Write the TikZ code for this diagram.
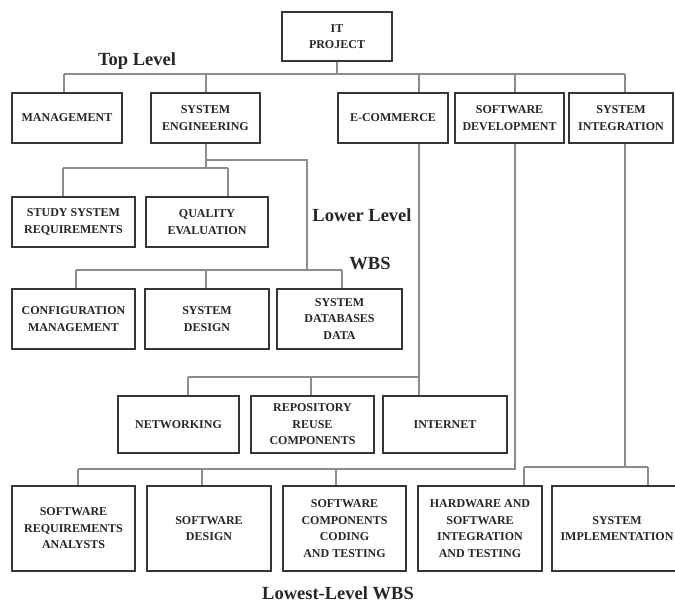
\documentclass[tikz,border=0pt]{standalone}
\usepackage{fontspec}
\setmainfont{Liberation Serif}
\usepackage{tikz}
\definecolor{boxline}{HTML}{363636}
\definecolor{linkline}{HTML}{8C8C8C}
\definecolor{wbstext}{HTML}{262626}
\newcommand{\wbsfont}{\fontsize{12}{16.5}\selectfont\bfseries}
\newcommand{\levelfont}{\fontsize{18.5}{20}\selectfont\bfseries}
\tikzstyle{wbsbox}[123pt]=[draw=boxline, line width=1.8pt, fill=white, inner sep=0, minimum width=#1,
                           align=center, text=wbstext, font=\wbsfont]
\tikzstyle{rowone}[110pt]=[wbsbox=#1, minimum height=50pt]
\tikzstyle{rowtwo}[123pt]=[wbsbox=#1, minimum height=50pt]
\tikzstyle{rowthree}[123pt]=[wbsbox=#1, minimum height=60pt]
\tikzstyle{rowfour}[123pt]=[wbsbox=#1, minimum height=57pt]
\tikzstyle{rowfive}[124pt]=[wbsbox=#1, minimum height=85pt]
\tikzstyle{link}=[draw=linkline, line width=1.5pt]
\tikzstyle{levellabel}=[inner sep=0, text=wbstext, font=\levelfont]
\tikzstyle{wbschart}=[x=1pt, y=-1pt,
                      % One unit is one pixel of the page.
                      execute at begin picture={\useasboundingbox (0,0) rectangle (675,602);}]

\begin{document}
\begin{tikzpicture}[wbschart]
        % Boxes, level by level.
        \node[wbsbox=110pt, minimum height=49pt] (IT) at (337, 36.5) {IT\\PROJECT};
        \node[rowone] (MG) at (67, 118) {MANAGEMENT};
        \node[rowone=109pt] (SE) at (205.5, 118) {SYSTEM\\ENGINEERING};
        \node[rowone] (EC) at (393, 118) {E-COMMERCE};
        \node[rowone=109pt] (SD) at (509.5, 118) {SOFTWARE\\DEVELOPMENT};
        \node[rowone=104pt] (SI) at (621, 118) {SYSTEM\\INTEGRATION};
        \node[rowtwo] (SR) at (73.5, 222) {STUDY SYSTEM\\REQUIREMENTS};
        \node[rowtwo=122pt] (QE) at (207, 222) {QUALITY\\EVALUATION};
        \node[rowthree] (CM) at (73.5, 319) {CONFIGURATION\\MANAGEMENT};
        \node[rowthree=124pt] (DS) at (207, 319) {SYSTEM\\DESIGN};
        \node[rowthree=125pt] (DB) at (339.5, 319) {SYSTEM\\DATABASES\\DATA};
        \node[rowfour=121pt] (NW) at (178.5, 424.5) {NETWORKING};
        \node[rowfour] (RR) at (312.5, 424.5) {REPOSITORY\\REUSE\\COMPONENTS};
        \node[rowfour=124pt] (IN) at (445, 424.5) {INTERNET};
        \node[rowfive=123pt] (RA) at (73.5, 528.5) {SOFTWARE\\REQUIREMENTS\\ANALYSTS};
        \node[rowfive] (SW) at (209, 528.5) {SOFTWARE\\DESIGN};
        \node[rowfive=123pt] (CT) at (344.5, 528.5) {SOFTWARE\\COMPONENTS\\CODING\\AND TESTING};
        \node[rowfive] (HW) at (480, 528.5) {HARDWARE AND\\SOFTWARE\\INTEGRATION\\AND TESTING};
        \node[rowfive=130pt] (IM) at (617, 528.5) {SYSTEM\\IMPLEMENTATION};
        % Level labels.
        \node[levellabel] (top) at (137, 61) {Top Level};
        \node[levellabel] (lower) at (362, 215) {Lower Level};
        \node[levellabel] (wbs) at (370, 264) {WBS};
        \node[levellabel] (lowest) at (338, 593) {Lowest-Level WBS};
        % Bus points.
        \coordinate (t-mg) at (64, 74);
        \coordinate (t-se) at (206, 74);
        \coordinate (t-ec) at (419, 74);
        \coordinate (t-sd) at (515, 74);
        \coordinate (t-si) at (625, 74);
        \coordinate (s-a) at (63, 168);
        \coordinate (s-b) at (228, 168);
        \coordinate (s-c) at (307, 160);
        \coordinate (c-a) at (76, 270);
        \coordinate (c-c) at (342, 270);
        \coordinate (e-a) at (188, 377);
        \coordinate (e-b) at (311, 377);
        \coordinate (d-a) at (78, 469);
        \coordinate (d-b) at (202, 469);
        \coordinate (d-c) at (336, 469);
        \coordinate (i-a) at (524, 467);
        \coordinate (i-b) at (648, 467);
        % Connectors.
        \draw[link] (IT.south) -- (IT.south |- t-mg);
        \draw[link] (t-mg) -- (t-si);
        \foreach \n/\c in {MG/t-mg, SE/t-se, EC/t-ec, SD/t-sd, SI/t-si}
            \draw[link] (\c) -- (\n.north -| \c);
        \draw[link] (SE.south -| t-se) -- (t-se |- s-a);
        \draw[link] (s-a) -- (s-b);
        \draw[link] (s-a) -- (SR.north -| s-a);
        \draw[link] (s-b) -- (QE.north -| s-b);
        \draw[link] (t-se |- s-c) -| (s-c |- c-a);
        \draw[link] (c-a) -- (c-c);
        \draw[link] (c-a) -- (CM.north -| c-a);
        \draw[link] (t-se |- c-a) -- (DS.north -| t-se);
        \draw[link] (c-c) -- (DB.north -| c-c);
        \draw[link] (EC.south -| t-ec) -- (IN.north -| t-ec);
        \draw[link] (e-a) -- (e-a -| t-ec);
        \draw[link] (e-a) -- (NW.north -| e-a);
        \draw[link] (e-b) -- (RR.north -| e-b);
        \draw[link] (SD.south -| t-sd) |- (d-a);
        \draw[link] (d-a) -- (RA.north -| d-a);
        \draw[link] (d-b) -- (SW.north -| d-b);
        \draw[link] (d-c) -- (CT.north -| d-c);
        \draw[link] (SI.south -| t-si) -- (t-si |- i-a);
        \draw[link] (i-a) -- (i-b);
        \draw[link] (i-a) -- (HW.north -| i-a);
        \draw[link] (i-b) -- (IM.north -| i-b);
    \end{tikzpicture}
\end{document}
